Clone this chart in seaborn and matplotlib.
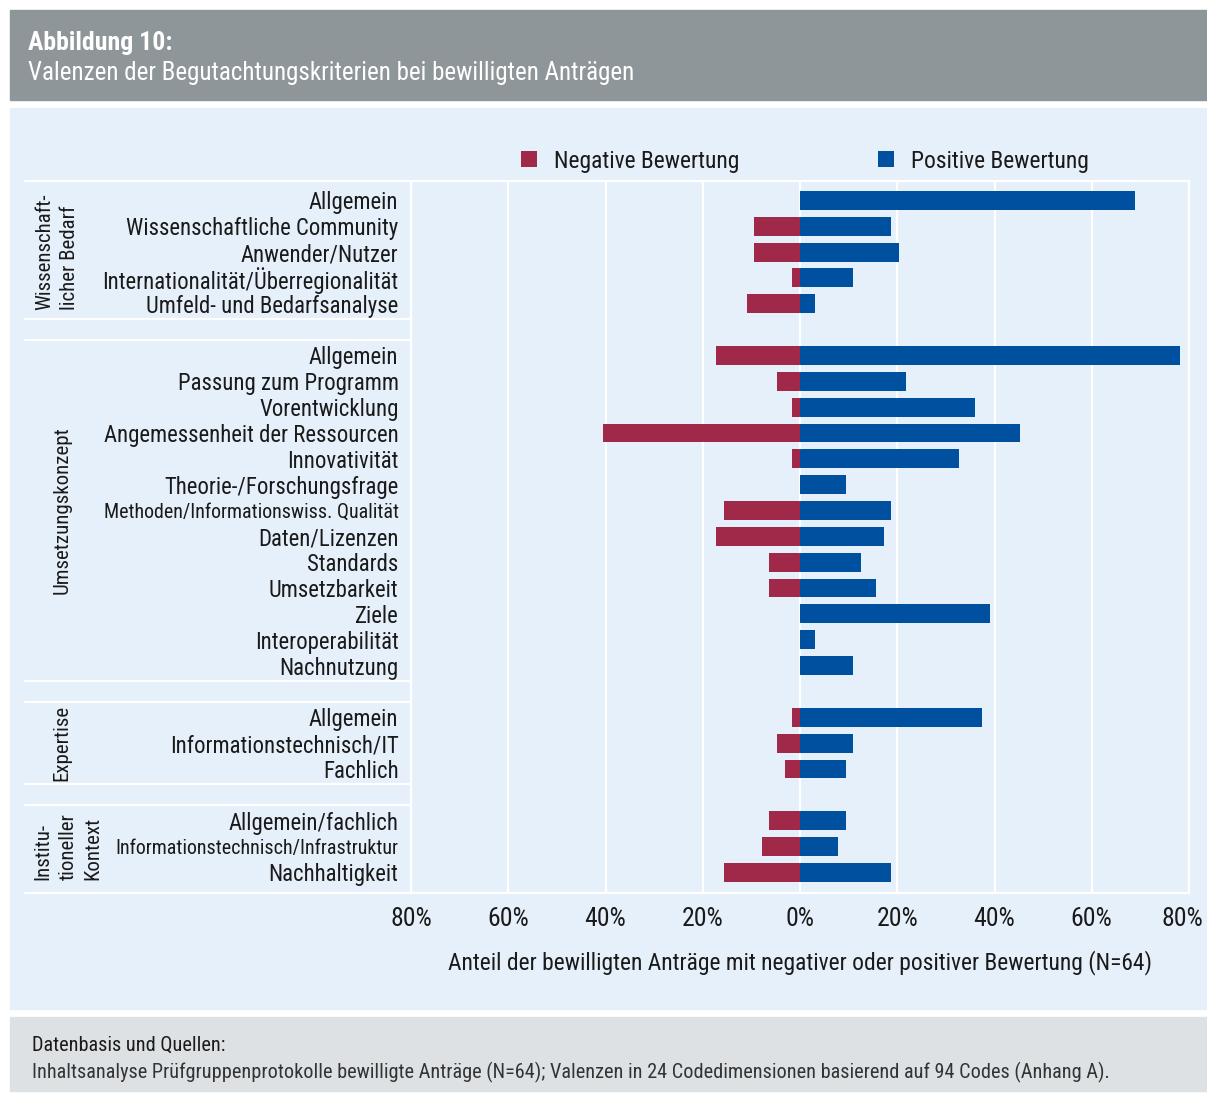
import pandas as pd
import matplotlib.pyplot as plt
import matplotlib.transforms as mtransforms
import seaborn as sns
from matplotlib.patches import Rectangle

# Data: share of approved proposals (N=64) with negative / positive rating, in %
groups = ["Wissenschaft-\nlicher Bedarf", "Umsetzungskonzept", "Expertise",
          "Institu-\ntioneller\nKontext"]

labels_wb = ["Allgemein", "Wissenschaftliche Community", "Anwender/Nutzer",
             "Internationalität/Überregionalität", "Umfeld- und Bedarfsanalyse"]
neg_wb = [0.0, 9.4, 9.4, 1.6, 10.9]
pos_wb = [68.8, 18.8, 20.3, 10.9, 3.1]

labels_uk = ["Allgemein", "Passung zum Programm", "Vorentwicklung",
             "Angemessenheit der Ressourcen", "Innovativität",
             "Theorie-/Forschungsfrage", "Methoden/Informationswiss. Qualität",
             "Daten/Lizenzen", "Standards", "Umsetzbarkeit", "Ziele",
             "Interoperabilität", "Nachnutzung"]
neg_uk = [17.2, 4.7, 1.6, 40.6, 1.6, 0.0, 15.6, 17.2, 6.3, 6.3, 0.0, 0.0, 0.0]
pos_uk = [78.1, 21.9, 35.9, 45.3, 32.8, 9.4, 18.8, 17.2, 12.5, 15.6, 39.1, 3.1, 10.9]

labels_ex = ["Allgemein", "Informationstechnisch/IT", "Fachlich"]
neg_ex = [1.6, 4.7, 3.1]
pos_ex = [37.5, 10.9, 9.4]

labels_ik = ["Allgemein/fachlich", "Informationstechnisch/Infrastruktur",
             "Nachhaltigkeit"]
neg_ik = [6.3, 7.8, 15.6]
pos_ik = [9.4, 7.8, 18.8]

xticks = [-80, -60, -40, -20, 0, 20, 40, 60, 80]
xticklabels = ["80%", "60%", "40%", "20%", "0%", "20%", "40%", "60%", "80%"]

RED = "#a0294a"
BLUE = "#0050a0"
PANEL = "#e6f0fa"
HEADER = "#8f9699"
FOOTER = "#dde1e4"
TEXT = "#1a1a1a"

# build long table with slot positions (one empty slot between groups)
rows = []
tick_pos, tick_lab, group_span = [], [], []
slot = 0
for labs, negs, poss in [(labels_wb, neg_wb, pos_wb), (labels_uk, neg_uk, pos_uk),
                         (labels_ex, neg_ex, pos_ex), (labels_ik, neg_ik, pos_ik)]:
    start = slot
    for lab, n, p in zip(labs, negs, poss):
        rows.append({"pos": slot, "wert": -n, "Bewertung": "Negative Bewertung"})
        rows.append({"pos": slot, "wert": p, "Bewertung": "Positive Bewertung"})
        tick_pos.append(slot)
        tick_lab.append(lab)
        slot += 1
    group_span.append((start, slot - 1))
    slot += 1
df = pd.DataFrame(rows)

sns.set_style("white")
plt.rcParams["font.family"] = ["Roboto Condensed", "DejaVu Sans"]
plt.rcParams["font.stretch"] = "condensed"

FS = 16.4

fig = plt.figure(figsize=(12.07, 10.93), dpi=100)
fig.patch.set_facecolor("white")

# header, panel, footer backgrounds
W, H = 1207, 1093
def px_rect(x0, y0, x1, y1, color):
    fig.patches.append(Rectangle((x0 / W, 1 - y1 / H), (x1 - x0) / W, (y1 - y0) / H,
                                 transform=fig.transFigure, color=color, zorder=-5))
px_rect(10, 10, 1207, 100, HEADER)
px_rect(10, 108, 1207, 1009, PANEL)
px_rect(10, 1017, 1207, 1091, FOOTER)

fig.text(28 / W, 1 - 43 / H, "Abbildung 10:", color="white", fontsize=18.5,
         fontweight="bold", va="center", ha="left")
fig.text(28 / W, 1 - 73 / H, "Valenzen der Begutachtungskriterien bei bewilligten Anträgen",
         color="white", fontsize=18, va="center", ha="left")
fig.text(32 / W, 1 - 1045 / H, "Datenbasis und Quellen:", color=TEXT, fontsize=14.6,
         va="center", ha="left")
fig.text(32 / W, 1 - 1072 / H,
         "Inhaltsanalyse Prüfgruppenprotokolle bewilligte Anträge (N=64); "
         "Valenzen in 24 Codedimensionen basierend auf 94 Codes (Anhang A).",
         color="#333333", fontsize=14.6, va="center", ha="left")

ax = fig.add_axes([411 / W, 1 - 893 / H, 778 / W, 712 / H])
ax.set_facecolor(PANEL)

sns.barplot(data=df, x="wert", y="pos", hue="Bewertung", orient="y",
            native_scale=True, dodge=False, width=0.73, saturation=1,
            palette={"Negative Bewertung": RED, "Positive Bewertung": BLUE},
            errorbar=None, linewidth=0, ax=ax, zorder=3)

ax.set_xlim(-80, 80)
ax.set_ylim(26.8, -0.75)
ax.set_xticks(xticks)
# last tick label is drawn separately, a little inside the panel edge
ax.set_xticklabels(xticklabels[:-1] + [""], fontsize=18.5, color=TEXT)
shift = mtransforms.ScaledTranslation(-7 / 100, -10 / 72, fig.dpi_scale_trans)
ax.text(xticks[-1], 0, xticklabels[-1], transform=ax.get_xaxis_transform() + shift,
        ha="center", va="top", fontsize=18.5, color=TEXT)
ax.set_yticks(tick_pos)
ax.set_yticklabels(tick_lab, fontsize=FS, color=TEXT)
# the two longest labels are set narrower in the original
for t in ax.get_yticklabels():
    if len(t.get_text()) > 34:
        t.set_fontsize(14.4)
ax.tick_params(axis="both", length=0)
ax.tick_params(axis="y", pad=9)
ax.tick_params(axis="x", pad=10)
ax.set_ylabel("")
ax.set_xlabel("Anteil der bewilligten Anträge mit negativer oder positiver Bewertung (N=64)",
              fontsize=16.9, color=TEXT, labelpad=14)

ax.grid(axis="x", color="white", linewidth=1.6, zorder=0)
ax.grid(axis="y", visible=False)
ax.set_axisbelow(True)
for s in ax.spines.values():
    s.set_color("white")
    s.set_linewidth(1.6)

# group boxes in label area
tr = ax.get_yaxis_transform()
x_left = (25 - 411) / 778
bounds = [-0.75]
for (a, b), nxt in zip(group_span[:-1], group_span[1:]):
    mid = (b + nxt[0]) / 2
    bounds += [mid - 0.4, mid + 0.4]
bounds.append(26.8)
for yb in bounds:
    ax.plot([x_left, 0], [yb, yb], color="white", linewidth=1.6, transform=tr,
            clip_on=False, zorder=1)

group_x = [-0.4545, -0.449, -0.449, -0.441]
for g, (a, b), gx in zip(groups, group_span, group_x):
    ax.text(gx, (a + b) / 2, g, transform=tr, rotation=90, ha="center", va="center",
            multialignment="left", fontsize=15, color=TEXT, linespacing=1.4)

leg = ax.legend(loc="center", bbox_to_anchor=(0.506, 1.028), ncol=2,
                frameon=False, fontsize=16.9, handlelength=0.68, handleheight=0.68,
                handletextpad=0.72, columnspacing=5.9, labelcolor=TEXT)

fig.savefig("out.png", dpi=100, facecolor="white")
